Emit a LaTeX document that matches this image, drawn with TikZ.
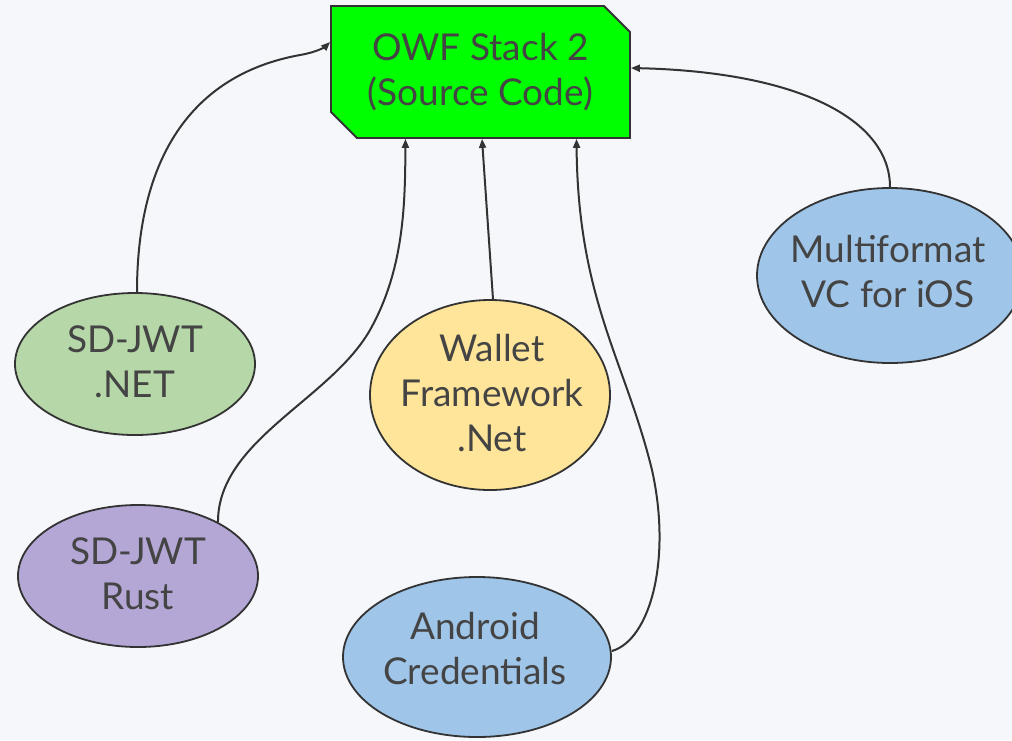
\documentclass[tikz,border=0pt]{standalone}
\usepackage{fontspec}
\setmainfont{Lato}
\usetikzlibrary{shapes.geometric,shapes.misc,arrows.meta}
\definecolor{bg}{HTML}{F5F7FB}
\definecolor{ink}{HTML}{444444}
\definecolor{edge}{HTML}{333333}
\definecolor{boxgreen}{HTML}{00FF00}
\definecolor{cgreen}{HTML}{B6D7A8}
\definecolor{cpurple}{HTML}{B4A7D6}
\definecolor{cyellow}{HTML}{FFE599}
\definecolor{cblue}{HTML}{9FC5E8}
\tikzset{
  lbl/.style={text=ink,font=\fontsize{37}{45}\selectfont,align=center,inner sep=0pt},
  oval/.style={ellipse,draw=edge,line width=1.8pt,inner sep=0pt},
  srcbox/.style={lbl,chamfered rectangle,chamfered rectangle corners={north east,south west},
    chamfered rectangle sep=13pt,draw=edge,line width=1.8pt,fill=boxgreen,
    minimum width=299pt,minimum height=132pt},
  link/.style={draw=edge,line width=2pt,-{Triangle[length=9pt,width=7pt]}}
}
\begin{document}
\begin{tikzpicture}[x=1pt,y=-1pt]
\useasboundingbox[fill=bg] (0,0) rectangle (1012,740);
\node[srcbox] (box) at (480.5,72) {OWF Stack 2\\(Source Code)};

\node[oval,fill=cgreen,minimum width=240pt,minimum height=142pt] (sdnet) at (135,364) {};
\node[lbl] (sdnettxt) at (135,362) {SD-JWT\\.NET};
\node[oval,fill=cpurple,minimum width=240pt,minimum height=142pt] (sdrust) at (138,576) {};
\node[lbl] (sdrusttxt) at (138,574) {SD-JWT\\Rust};
\node[oval,fill=cyellow,minimum width=240pt,minimum height=190pt] (wallet) at (490,395) {};
\node[lbl] (wallettxt) at (492,393) {Wallet\\Framework\\.Net};
\node[oval,fill=cblue,minimum width=268pt,minimum height=160pt] (android) at (477,657) {};
\node[lbl] (androidtxt) at (475,649) {Android\\Credentials};
\node[oval,fill=cblue,minimum width=266pt,minimum height=175pt] (mf) at (890,275.5) {};
\node[lbl] (mftxt) at (888,272) {Multiformat\\VC for iOS};

\draw[link] ([xshift=2pt]sdnet.north) .. controls (137,160) and (190,75) .. (300,55)
  .. controls (318,52) and (326,46) .. ([yshift=30pt]box.west);
\draw[link] (sdrust.34) .. controls (218,440) and (330,400) .. (370,330)
  .. controls (405,268) and (405,200) .. ([xshift=-75pt]box.south);
\draw[link] ([xshift=3pt]wallet.north) -- ([xshift=1.5pt]box.south);
\draw[link] ([yshift=6pt]android.east) .. controls (650,640) and (672,560) .. (652,470)
  .. controls (625,360) and (578,300) .. ([xshift=96pt]box.south);
\draw[link] (mf.north) .. controls (890,120) and (800,72) .. ([yshift=4pt]box.east);
\end{tikzpicture}
\end{document}
